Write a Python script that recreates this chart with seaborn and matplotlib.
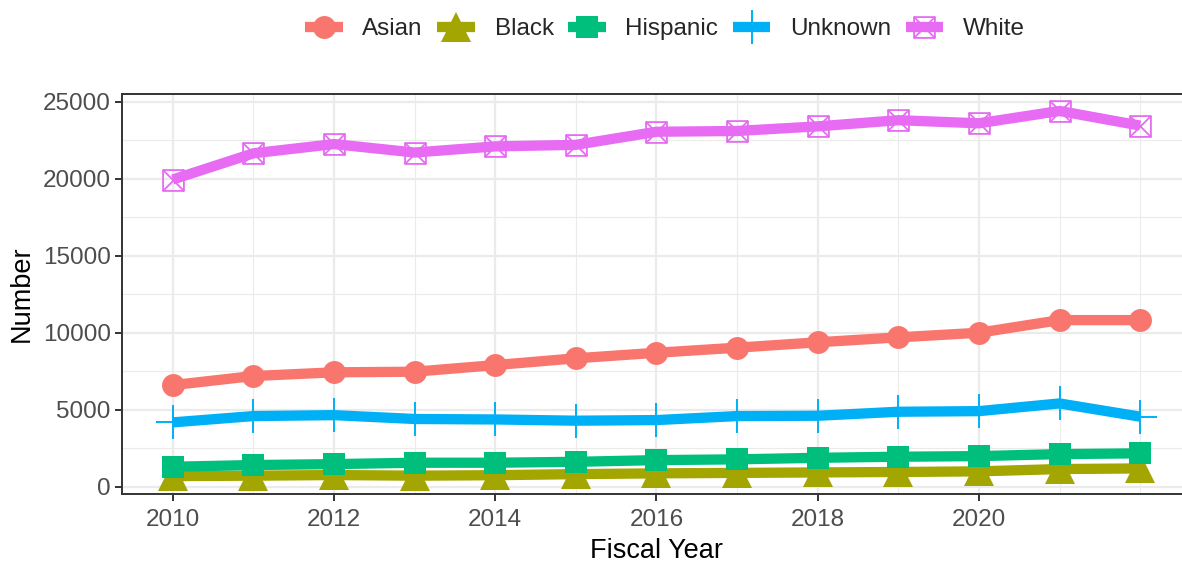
import matplotlib
matplotlib.use("Agg")
import matplotlib.pyplot as plt
import seaborn as sns
import pandas as pd
from matplotlib.path import Path
from matplotlib.lines import Line2D

# values
years = list(range(2010, 2023))
asian = [6600, 7190, 7430, 7470, 7900, 8340, 8700, 9030, 9380, 9700, 10000, 10820, 10820]
black = [690, 720, 760, 720, 750, 820, 870, 900, 930, 960, 1000, 1150, 1190]
hispanic = [1300, 1410, 1470, 1560, 1560, 1620, 1730, 1780, 1880, 1950, 1990, 2120, 2170]
unknown = [4180, 4590, 4650, 4400, 4370, 4290, 4330, 4590, 4610, 4870, 4910, 5410, 4550]
white = [19950, 21650, 22250, 21700, 22100, 22200, 23050, 23100, 23400, 23800, 23600, 24400, 23450]

groups = ["Asian", "Black", "Hispanic", "Unknown", "White"]
colors = ["#F8766D", "#A3A500", "#00BF7D", "#00B0F6", "#E76BF3"]

df = pd.DataFrame({
    "Fiscal Year": years * 5,
    "Number": asian + black + hispanic + unknown + white,
    "Group": sum([[g] * len(years) for g in groups], []),
})

# square with a cross inside (ggplot shape 7)
sqx = Path(
    [(-1, -1), (1, -1), (1, 1), (-1, 1), (-1, -1), (-1, -1), (1, 1), (-1, 1), (1, -1)],
    [Path.MOVETO, Path.LINETO, Path.LINETO, Path.LINETO, Path.CLOSEPOLY,
     Path.MOVETO, Path.LINETO, Path.MOVETO, Path.LINETO],
)

mstyle = {
    "Asian": dict(marker="o", ms=16.5),
    "Black": dict(marker="^", ms=21),
    "Hispanic": dict(marker="s", ms=15.5),
    "Unknown": dict(marker="+", ms=25, mew=1.4),
    "White": dict(marker=sqx, ms=15, mfc="none", mew=1.3),
}

sns.set_theme(style="white")
plt.rcParams["font.family"] = ["Liberation Sans", "DejaVu Sans"]

fig = plt.figure(figsize=(11.82, 5.62), dpi=100)
ax = fig.add_axes([0.1032, 0.121, 0.9044, 0.7117])

lw = 7.4
sns.lineplot(data=df, x="Fiscal Year", y="Number", hue="Group", hue_order=groups,
             palette=colors, linewidth=lw, legend=False, ax=ax, zorder=3,
             solid_capstyle="butt", solid_joinstyle="round")

for g, c in zip(groups, colors):
    sub = df[df["Group"] == g]
    kw = dict(mstyle[g])
    kw.setdefault("mfc", c)
    kw.setdefault("mew", 0)
    ax.plot(sub["Fiscal Year"], sub["Number"], linestyle="none", color=c, mec=c,
            zorder=4, **kw)

ax.set_xlim(2009.37, 2022.63)
ax.set_ylim(-470, 25500)
ax.set_xticks(range(2010, 2021, 2))
ax.set_xticks(list(range(2011, 2023, 2)) + [2022], minor=True)
ax.set_yticks(range(0, 25001, 5000))
ax.set_yticks(range(2500, 25000, 5000), minor=True)

ax.grid(True, which="major", color="#EBEBEB", linewidth=1.6)
ax.grid(True, which="minor", color="#EBEBEB", linewidth=0.8)
ax.set_axisbelow(True)
for s in ax.spines.values():
    s.set_color("#333333")
    s.set_linewidth(1.4)

ax.tick_params(axis="both", which="major", length=5, width=1.4, color="#333333",
               labelsize=17.5, labelcolor="#4D4D4D", direction="out",
               bottom=True, left=True, pad=3)
ax.tick_params(axis="x", which="major", pad=6)
ax.tick_params(axis="both", which="minor", length=0)

ax.set_xlabel("Fiscal Year", fontsize=19.5, color="black", labelpad=5)
ax.set_ylabel("Number", fontsize=19.5, color="black", labelpad=6)

handles = []
for g, c in zip(groups, colors):
    kw = dict(mstyle[g])
    kw.setdefault("mfc", c)
    kw.setdefault("mew", 0)
    handles.append(Line2D([0], [0], color=c, lw=lw, mec=c, solid_capstyle="butt", **kw))

fig.legend(handles, groups, loc="center", bbox_to_anchor=(0.5626, 0.948), ncol=5,
           frameon=False, fontsize=17.5, handlelength=1.55, handletextpad=0.8,
           columnspacing=0.6)

fig.savefig("out.png", dpi=100)
